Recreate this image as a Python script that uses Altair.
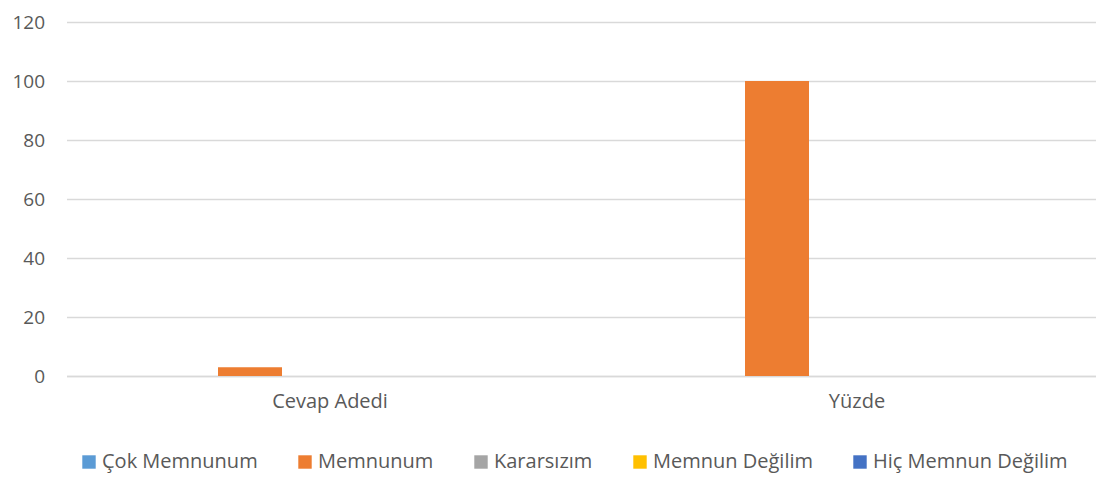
import altair as alt
import pandas as pd

categories = ["Cevap Adedi", "Yüzde"]
series = ["Çok Memnunum", "Memnunum", "Kararsızım", "Memnun Değilim", "Hiç Memnun Değilim"]
colors = ["#5B9BD5", "#ED7D31", "#A5A5A5", "#FFC000", "#4472C4"]
values = {
    "Çok Memnunum": [0, 0],
    "Memnunum": [3, 100],
    "Kararsızım": [0, 0],
    "Memnun Değilim": [0, 0],
    "Hiç Memnun Değilim": [0, 0],
}
y_ticks = [0, 20, 40, 60, 80, 100, 120]

rows = []
for s in series:
    for c, v in zip(categories, values[s]):
        rows.append({"Kategori": c, "Seri": s, "Değer": v})
df = pd.DataFrame(rows)

FONT = "Open Sans"
TXT = "#595959"

chart = alt.Chart(df).mark_bar().encode(
    x=alt.X("Kategori:N", sort=categories,
            scale=alt.Scale(paddingInner=0, paddingOuter=0),
            axis=alt.Axis(title=None, labelAngle=0, ticks=False, domain=True,
                          domainColor="#D9D9D9", domainWidth=1.3, labelPadding=15,
                          labelFontSize=20, labelFont=FONT, labelColor=TXT, grid=False)),
    xOffset=alt.XOffset("Seri:N", sort=series,
                        scale=alt.Scale(paddingInner=0, paddingOuter=0, range=[87.5, 407.5])),
    y=alt.Y("Değer:Q", scale=alt.Scale(domain=[0, 120], nice=False),
            axis=alt.Axis(title=None, values=y_ticks, ticks=False, domain=False,
                          labelPadding=22, labelFontSize=19, labelFont=FONT, labelColor=TXT,
                          gridColor="#D9D9D9", gridWidth=1.3)),
    color=alt.Color("Seri:N", sort=series,
                    scale=alt.Scale(domain=series, range=colors),
                    legend=alt.Legend(title=None, orient="none", direction="horizontal",
                                      legendX=12.5, legendY=430, columns=5,
                                      symbolType="square", symbolSize=180,
                                      symbolStrokeWidth=0, symbolOpacity=1,
                                      labelFontSize=20, labelFont=FONT, labelColor=TXT,
                                      labelOffset=3, columnPadding=37, labelLimit=0)),
).properties(
    width=1054, height=354,
    autosize=alt.AutoSizeParams(type="none"),
    padding={"left": 58.5, "top": 14, "right": -24.5, "bottom": 103},
).configure_view(stroke=None)

chart.save("out.html", embed_options={"renderer": "svg", "actions": False})
